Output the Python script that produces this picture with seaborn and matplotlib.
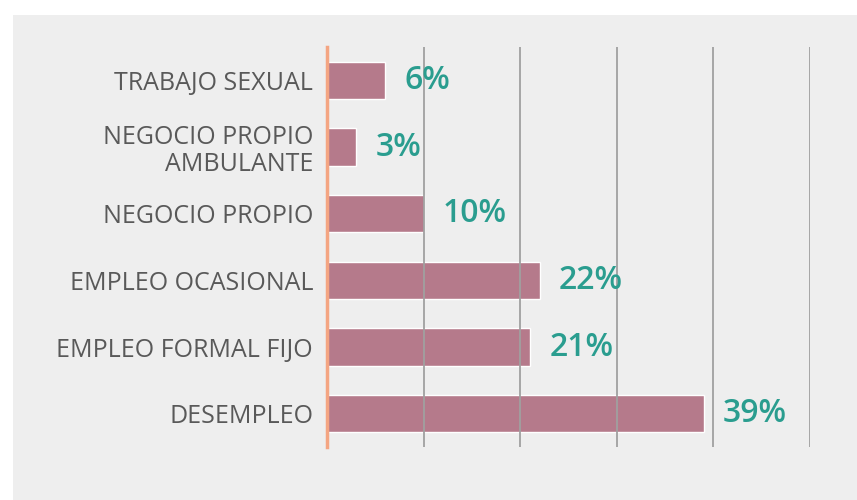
import matplotlib.patches as patches
import matplotlib.pyplot as plt
import pandas as pd
import seaborn as sns

CATEGORIES = [
    "TRABAJO SEXUAL",
    "NEGOCIO PROPIO\nAMBULANTE",
    "NEGOCIO PROPIO",
    "EMPLEO OCASIONAL",
    "EMPLEO FORMAL FIJO",
    "DESEMPLEO",
]
PERCENTS = [6, 3, 10, 22, 21, 39]
GRID_TICKS = [10, 20, 30, 40, 50]

BAR_COLOR = "#b57a8b"
LABEL_COLOR = "#2a9d8f"
PANEL_COLOR = "#eeeeee"


def create_chart():
    sns.set_style("white")
    plt.rcParams["font.family"] = ["Open Sans", "DejaVu Sans"]

    df = pd.DataFrame({"categoria": CATEGORIES, "porcentaje": PERCENTS})

    fig = plt.figure(figsize=(8.57, 5), dpi=100)
    fig.patch.set_facecolor("white")
    # light gray card behind the chart
    fig.patches.append(
        patches.Rectangle(
            (13 / 857, 0), 1, 1 - 15 / 500,
            transform=fig.transFigure, facecolor=PANEL_COLOR,
            edgecolor="none", zorder=-10,
        )
    )

    ax = fig.add_axes([327 / 857, 53 / 500, 483 / 857, 400 / 500])
    ax.set_facecolor("none")

    sns.barplot(
        data=df, x="porcentaje", y="categoria", orient="h",
        color=BAR_COLOR, saturation=1, width=0.56, ax=ax, zorder=2,
    )

    ax.set_xlim(0, 50)
    ax.set_ylim(5.5, -0.5)
    ax.set_xticks(GRID_TICKS)
    ax.set_xticklabels([])
    ax.xaxis.grid(True, color="#a0a0a0", linewidth=1.3, zorder=3)
    ax.set_axisbelow(False)
    for sp in ["top", "right", "bottom"]:
        ax.spines[sp].set_visible(False)
    ax.spines["left"].set_color("#f4a582")
    ax.spines["left"].set_linewidth(2.5)
    ax.spines["left"].set_zorder(4)

    ax.set_xlabel("")
    ax.set_ylabel("")
    ax.tick_params(axis="y", length=0, pad=10, labelsize=18, labelcolor="#595959")
    ax.tick_params(axis="x", length=0)
    for lbl in ax.get_yticklabels():
        lbl.set_multialignment("right")
        lbl.set_linespacing(1.1)

    ax.bar_label(
        ax.containers[0], labels=[f"{v}%" for v in PERCENTS], padding=14,
        color=LABEL_COLOR, fontsize=23, fontweight="semibold",
    )

    fig.savefig("out.png", dpi=100)


if __name__ == "__main__":
    create_chart()
